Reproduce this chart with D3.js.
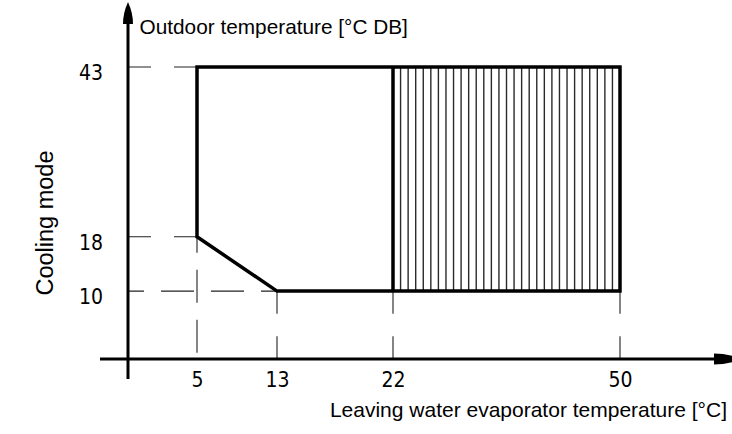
<!DOCTYPE html>
<html>
<head>
<meta charset="utf-8">
<script src="https://cdn.jsdelivr.net/npm/d3@7"></script>
<style>
  body { margin: 0; background: #fff; }
  svg { display: block; }
</style>
</head>
<body>
<div id="chart"></div>
<script>
// operating envelope, cooling mode
var xTicks = [5, 13, 22, 50];
var yTicks = [10, 18, 43];
var envelope = [[5, 43], [50, 43], [50, 10], [13, 10], [5, 18]];
var hatchRange = [22, 50];
var hGuides = [[43, 5], [18, 5], [10, 13]];      // [y value, x where it meets the envelope]
var vGuides = [[5, 18], [13, 10], [22, 10], [50, 10]]; // [x value, y where it meets the envelope]

var width = 732,
    height = 434;

var svg = d3.select("#chart")
    .append("svg")
    .attr("width", width)
    .attr("height", height);

// x is a schematic scale, not linear
var x = d3.scaleLinear()
    .domain([0, 5, 13, 22, 50])
    .range([128, 197, 277, 393, 620]);

var y = d3.scaleLinear()
    .domain([0, 43])
    .range([359, 67]);

// hatching in the 22..50 band
var step = (hatchRange[1] - hatchRange[0]) / 30;
svg.append("g")
    .selectAll("line")
    .data(d3.range(1, 30).map(function (k) { return hatchRange[0] + k * step; }))
    .enter()
    .append("line")
    .attr("x1", function (d) { return x(d); })
    .attr("x2", function (d) { return x(d); })
    .attr("y1", y(10))
    .attr("y2", y(43))
    .attr("stroke", "#2a2a2a")
    .attr("stroke-width", 1.4);

function dashes(len) {
    if (len < 100) return len / 3 + "," + len / 3;
    return "33,17";
}

var guides = svg.append("g")
    .attr("stroke", "#222")
    .attr("stroke-width", 1.1)
    .attr("fill", "none");

guides.selectAll("line.h")
    .data(hGuides)
    .enter()
    .append("line")
    .attr("class", "h")
    .attr("x1", x(0))
    .attr("x2", function (d) { return x(d[1]); })
    .attr("y1", function (d) { return y(d[0]); })
    .attr("y2", function (d) { return y(d[0]); })
    .attr("stroke-dasharray", function (d) { return dashes(x(d[1]) - x(0)); })
    .attr("stroke-dashoffset", function (d) { return x(d[1]) - x(0) < 100 ? 0 : 17; });

guides.selectAll("line.v")
    .data(vGuides)
    .enter()
    .append("line")
    .attr("class", "v")
    .attr("x1", function (d) { return x(d[0]); })
    .attr("x2", function (d) { return x(d[0]); })
    .attr("y1", function (d) { return y(d[1]); })
    .attr("y2", y(0))
    .attr("stroke-dasharray", function (d) { return dashes(y(0) - y(d[1])); })
    .attr("stroke-dashoffset", function (d) { return y(0) - y(d[1]) < 100 ? 0 : 17; });

// envelope outline
svg.append("path")
    .datum(envelope)
    .attr("d", d3.line()
        .x(function (d) { return x(d[0]); })
        .y(function (d) { return y(d[1]); })
        .curve(d3.curveLinearClosed))
    .attr("fill", "none")
    .attr("stroke", "#000")
    .attr("stroke-width", 3.5)
    .attr("stroke-linejoin", "miter");

svg.append("line")
    .attr("x1", x(hatchRange[0]))
    .attr("x2", x(hatchRange[0]))
    .attr("y1", y(10))
    .attr("y2", y(43))
    .attr("stroke", "#000")
    .attr("stroke-width", 3.5);

// axis lines with arrows
svg.append("line")
    .attr("x1", 100).attr("x2", 720)
    .attr("y1", y(0)).attr("y2", y(0))
    .attr("stroke", "#000").attr("stroke-width", 3);
svg.append("line")
    .attr("x1", x(0)).attr("x2", x(0))
    .attr("y1", 379).attr("y2", 20)
    .attr("stroke", "#000").attr("stroke-width", 3);

svg.append("path")
    .attr("d", "M128,2 Q133,13 133,24 L123,24 Q123,13 128,2 Z")
    .attr("fill", "#000");
svg.append("path")
    .attr("d", "M714,353.5 Q728,353.5 742,359 Q728,364.5 714,364.5 Z")
    .attr("fill", "#000");

// tick labels
var tickFont = "'Liberation Sans Narrow', 'DejaVu Sans Condensed', sans-serif";

var xAxis = svg.append("g")
    .attr("transform", "translate(0," + y(0) + ")")
    .call(d3.axisBottom(x).tickValues(xTicks).tickSize(0).tickPadding(13));
var yAxis = svg.append("g")
    .attr("transform", "translate(" + x(0) + ",0)")
    .call(d3.axisLeft(y).tickValues(yTicks).tickSize(0).tickPadding(25));

[xAxis, yAxis].forEach(function (g) {
    g.select(".domain").remove();
    g.selectAll("text")
        .attr("fill", "#000")
        .style("font-family", tickFont)
        .style("font-size", "21px");
});
yAxis.selectAll("text").attr("dy", "0.6em");

// titles
var labelFont = "'Liberation Sans', Arial, sans-serif";

svg.append("text")
    .attr("x", 139.5)
    .attr("y", 33.5)
    .style("font-family", labelFont)
    .style("font-size", "20.8px")
    .text("Outdoor temperature [°C DB]");

svg.append("text")
    .attr("x", 727)
    .attr("y", 417)
    .attr("text-anchor", "end")
    .style("font-family", labelFont)
    .style("font-size", "21px")
    .text("Leaving water evaporator temperature [°C]");

svg.append("text")
    .attr("transform", "translate(53,223) rotate(-90)")
    .attr("text-anchor", "middle")
    .style("font-family", labelFont)
    .style("font-size", "23.5px")
    .text("Cooling mode");
</script>
</body>
</html>
